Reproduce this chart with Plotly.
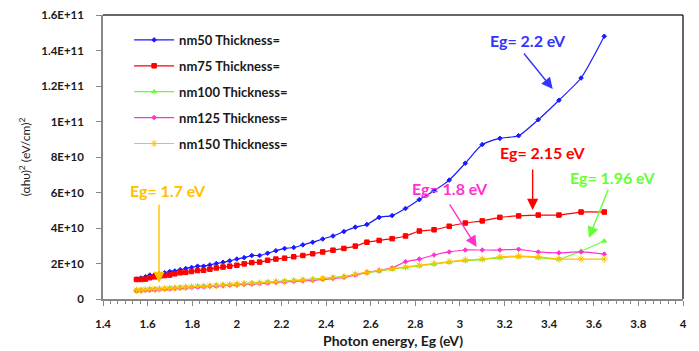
import plotly.graph_objects as go

# Photon energy (eV)
energy = [1.550, 1.570, 1.590, 1.610, 1.632, 1.653, 1.676, 1.699, 1.722, 1.746,
          1.771, 1.797, 1.824, 1.851, 1.879, 1.908, 1.938, 1.968, 2.000, 2.033,
          2.067, 2.102, 2.138, 2.175, 2.214, 2.255, 2.296, 2.340, 2.385, 2.431,
          2.480, 2.531, 2.583, 2.638, 2.696, 2.756, 2.818, 2.884, 2.952, 3.024,
          3.100, 3.179, 3.263, 3.351, 3.444, 3.543, 3.647]

# (alpha h nu)^2 in units of 1E+10 (eV/cm)^2
t50 = [1.12, 1.18, 1.25, 1.35, 1.38, 1.42, 1.48, 1.55, 1.58, 1.65,
       1.72, 1.78, 1.85, 1.85, 1.92, 2.00, 2.07, 2.15, 2.25, 2.33,
       2.45, 2.45, 2.58, 2.72, 2.85, 2.90, 3.05, 3.20, 3.38, 3.55,
       3.80, 4.05, 4.20, 4.60, 4.70, 5.10, 5.60, 6.10, 6.70, 7.65,
       8.70, 9.05, 9.20, 10.10, 11.20, 12.45, 14.80]
t75 = [1.10, 1.10, 1.12, 1.20, 1.25, 1.28, 1.32, 1.35, 1.42, 1.48,
       1.50, 1.55, 1.60, 1.62, 1.68, 1.75, 1.80, 1.85, 1.90, 1.98,
       2.05, 2.08, 2.18, 2.25, 2.30, 2.38, 2.45, 2.55, 2.65, 2.75,
       2.85, 2.98, 3.20, 3.30, 3.40, 3.55, 3.83, 3.90, 4.10, 4.28,
       4.40, 4.60, 4.68, 4.73, 4.73, 4.90, 4.90]
t100 = [0.52, 0.52, 0.54, 0.56, 0.57, 0.58, 0.60, 0.62, 0.64, 0.66,
        0.68, 0.70, 0.72, 0.74, 0.76, 0.78, 0.80, 0.82, 0.85, 0.88,
        0.90, 0.92, 0.96, 0.99, 1.02, 1.05, 1.09, 1.12, 1.17, 1.22,
        1.27, 1.38, 1.48, 1.58, 1.68, 1.78, 1.87, 1.97, 2.07, 2.16,
        2.22, 2.32, 2.38, 2.33, 2.25, 2.70, 3.27]
t125 = [0.45, 0.46, 0.48, 0.50, 0.51, 0.53, 0.55, 0.57, 0.59, 0.61,
        0.63, 0.65, 0.67, 0.69, 0.71, 0.73, 0.75, 0.77, 0.79, 0.82,
        0.84, 0.87, 0.90, 0.93, 0.96, 0.99, 1.02, 1.05, 1.10, 1.15,
        1.22, 1.35, 1.50, 1.60, 1.75, 2.10, 2.25, 2.48, 2.65, 2.76,
        2.76, 2.76, 2.80, 2.65, 2.60, 2.65, 2.53]
t150 = [0.50, 0.50, 0.52, 0.55, 0.55, 0.57, 0.58, 0.60, 0.62, 0.64,
        0.66, 0.68, 0.70, 0.72, 0.74, 0.76, 0.78, 0.80, 0.83, 0.86,
        0.88, 0.90, 0.94, 0.97, 1.00, 1.03, 1.07, 1.10, 1.15, 1.20,
        1.25, 1.40, 1.50, 1.60, 1.70, 1.80, 1.90, 2.00, 2.10, 2.20,
        2.25, 2.37, 2.42, 2.37, 2.25, 2.25, 2.25]

names = ["nm50 Thickness=", "nm75 Thickness=", "nm100 Thickness=",
         "nm125 Thickness=", "nm150 Thickness="]
series = [t50, t75, t100, t125, t150]
colors = ["#1a1aff", "#ff0000", "#66ff33", "#ff33cc", "#ffc000"]
symbols = ["diamond", "square", "triangle-up", "diamond", "asterisk-open"]
msizes = [3.5, 4.5, 4.5, 3.5, 6]

ytick_vals = [0, 2, 4, 6, 8, 10, 12, 14, 16]
ytick_text = ["0", "2E+10", "4E+10", "6E+10", "8E+10", "1E+11", "1.2E+11", "1.4E+11", "1.6E+11"]
xtick_vals = [1.4, 1.6, 1.8, 2, 2.2, 2.4, 2.6, 2.8, 3, 3.2, 3.4, 3.6, 3.8, 4]
xtick_text = ["1.4", "1.6", "1.8", "2", "2.2", "2.4", "2.6", "2.8", "3", "3.2", "3.4", "3.6", "3.8", "4"]

fig = go.Figure()
for i, (nm, s) in enumerate(zip(names, series)):
    fig.add_trace(go.Scatter(
        x=energy, y=[v * 1e10 for v in s], name="<b>" + nm + "</b>", mode="lines+markers",
        line=dict(color=colors[i], width=1.2, shape="spline", smoothing=0.6),
        marker=dict(symbol=symbols[i], size=msizes[i], color=colors[i],
                    line=dict(color=colors[i], width=1)),
        legendgroup=str(i)))

font = "Lato, 'Open Sans', sans-serif"

# Eg labels and arrows: (text, color, text x, text y(E10), head x, head y(E10), ax, ay)
labels = [
    ("Eg= 2.2 eV", "#3333ff", 3.304, 14.54, 3.416, 11.83, -30, -37),
    ("Eg= 2.15 eV", "#ff0000", 3.371, 8.23, 3.326, 5.01, 0, -42),
    ("Eg= 1.96 eV", "#66ff33", 3.686, 6.87, 3.578, 3.44, 20, -50),
    ("Eg= 1.8 eV", "#ff33cc", 2.954, 6.20, 3.075, 2.93, -28, -44),
    ("Eg= 1.7 eV", "#ffc000", 1.692, 6.14, 1.651, 0.90, 0, -80),
]
for txt, col, tx, ty, hx, hy, ax, ay in labels:
    fig.add_annotation(x=tx, y=ty * 1e10, text="<b>" + txt + "</b>", showarrow=False,
                       font=dict(family=font, size=16, color=col))
    fig.add_annotation(x=hx, y=hy * 1e10, text="", showarrow=True, ax=ax, ay=ay,
                       arrowhead=2, arrowsize=1.6, arrowwidth=1.4, arrowcolor=col)

fig.update_layout(
    width=699, height=351,
    margin=dict(l=103, r=16, t=15, b=52),
    plot_bgcolor="white", paper_bgcolor="white",
    font=dict(family=font, size=11, color="#1a1a1a"),
    legend=dict(x=0.045, y=0.965, xanchor="left", yanchor="top",
                bgcolor="rgba(0,0,0,0)", tracegroupgap=6, itemwidth=40,
                font=dict(family=font, size=13, color="#1a1a1a")),
    xaxis=dict(range=[1.4, 4], tickvals=xtick_vals, ticktext=xtick_text,
               automargin=False,
               showgrid=False, zeroline=False, showline=True, linecolor="#888888",
               linewidth=1.5, ticks="outside", ticklen=5, tickcolor="#888888",
               ticklabelstandoff=8,
               tickfont=dict(family=font, size=11.5, color="#1a1a1a", weight="bold"),
               minor=dict(dtick=0.2 / 6, tick0=1.4, ticks="outside", ticklen=3,
                          tickcolor="#888888", showgrid=False),
               title=dict(text="<b>Photon energy, Eg (eV)</b>", standoff=8,
                          font=dict(family=font, size=14, color="#1a1a1a"))),
    yaxis=dict(range=[0, 1.6e11], tickvals=[v * 1e10 for v in ytick_vals], ticktext=ytick_text,
               automargin=False,
               showgrid=False, zeroline=False, showline=True, linecolor="#888888",
               linewidth=1.5, ticks="outside", ticklen=5, tickcolor="#888888",
               ticklabelstandoff=10,
               tickfont=dict(family=font, size=11.5, color="#1a1a1a", weight="bold"),
               title=dict(text="(αhυ)<sup>2</sup> (eV/cm)<sup>2</sup>", standoff=8,
                          font=dict(family=font, size=12, color="#1a1a1a"))),
    showlegend=True,
)
# top and right frame lines
fig.add_shape(type="line", xref="paper", yref="paper", x0=0, x1=1, y0=1, y1=1,
              line=dict(color="#333333", width=1.5))
fig.add_shape(type="line", xref="paper", yref="paper", x0=1, x1=1, y0=0, y1=1,
              line=dict(color="#333333", width=1.5))

fig.write_html("out.html")
